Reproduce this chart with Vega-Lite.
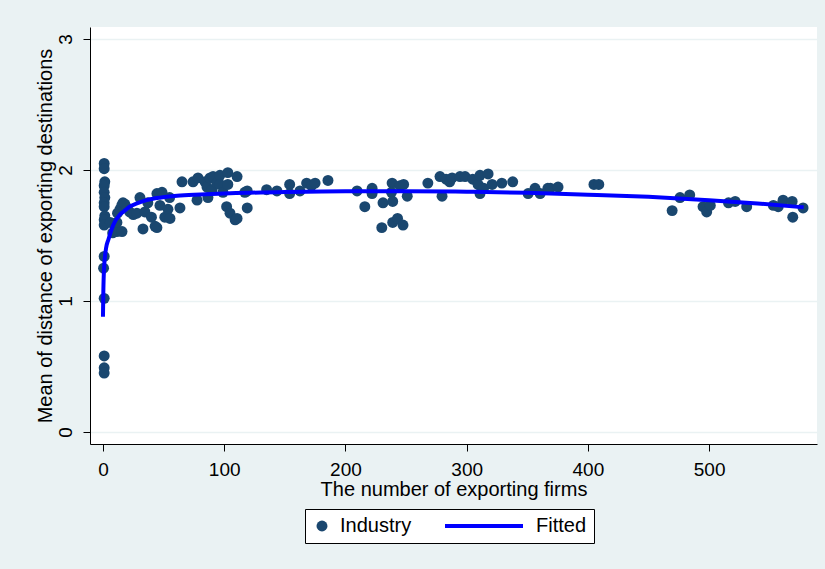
{
  "$schema": "https://vega.github.io/schema/vega-lite/v6.json",
  "width": 727,
  "height": 417,
  "autosize": {"type": "none"},
  "padding": {"left": 90, "top": 27, "right": 8, "bottom": 125},
  "background": "#EAF2F3",
  "config": {
    "view": {"fill": "white", "stroke": null},
    "font": "Liberation Sans",
    "axis": {
      "domainColor": "black",
      "domainWidth": 1,
      "tickColor": "black",
      "tickSize": 7,
      "labelColor": "black",
      "labelFontSize": 19,
      "labelFont": "Liberation Sans",
      "titleColor": "black",
      "titleFontSize": 20,
      "titleFontWeight": "normal",
      "titleFont": "Liberation Sans",
      "labelFlush": false
    },
    "legend": {
      "orient": "none",
      "legendX": 215,
      "legendY": 482,
      "direction": "horizontal",
      "title": null,
      "labelFontSize": 20,
      "labelColor": "black",
      "labelFont": "Liberation Sans",
      "labelOffset": 8,
      "strokeColor": "black",
      "fillColor": "white",
      "padding": 7,
      "columnPadding": 33,
      "cornerRadius": 0
    }
  },
  "datasets": {
    "industry": [
      {"x": 1, "y": 2.05}, {"x": 1, "y": 2.01}, {"x": 1.5, "y": 1.91}, {"x": 1, "y": 1.88},
      {"x": 1, "y": 1.83}, {"x": 1.5, "y": 1.79}, {"x": 1, "y": 1.75}, {"x": 1, "y": 1.72},
      {"x": 1.5, "y": 1.65}, {"x": 1, "y": 1.62}, {"x": 1, "y": 1.58}, {"x": 1, "y": 1.34},
      {"x": 0.5, "y": 1.25}, {"x": 1, "y": 1.02}, {"x": 1, "y": 0.58}, {"x": 1, "y": 0.49},
      {"x": 1, "y": 0.45},
      {"x": 6, "y": 1.6}, {"x": 8, "y": 1.52}, {"x": 10, "y": 1.57}, {"x": 11.5, "y": 1.53},
      {"x": 11.5, "y": 1.6}, {"x": 12, "y": 1.67}, {"x": 14, "y": 1.7}, {"x": 15.5, "y": 1.73},
      {"x": 16.5, "y": 1.75}, {"x": 15.7, "y": 1.53}, {"x": 18, "y": 1.74}, {"x": 20, "y": 1.71},
      {"x": 22, "y": 1.68}, {"x": 25, "y": 1.66}, {"x": 28, "y": 1.67}, {"x": 30.5, "y": 1.79},
      {"x": 33, "y": 1.55}, {"x": 34.6, "y": 1.68}, {"x": 37, "y": 1.75}, {"x": 40, "y": 1.64},
      {"x": 43, "y": 1.57}, {"x": 44.5, "y": 1.56}, {"x": 44.5, "y": 1.82}, {"x": 47, "y": 1.73},
      {"x": 48.7, "y": 1.83}, {"x": 51, "y": 1.64}, {"x": 53.6, "y": 1.7}, {"x": 55, "y": 1.79},
      {"x": 55.3, "y": 1.63},
      {"x": 63.5, "y": 1.71}, {"x": 65.2, "y": 1.91}, {"x": 74.3, "y": 1.91}, {"x": 77.6, "y": 1.77},
      {"x": 78.4, "y": 1.94}, {"x": 84.2, "y": 1.91}, {"x": 85.8, "y": 1.87}, {"x": 86.6, "y": 1.79},
      {"x": 88.3, "y": 1.94}, {"x": 90, "y": 1.85}, {"x": 90.8, "y": 1.95}, {"x": 94, "y": 1.9},
      {"x": 96.5, "y": 1.96}, {"x": 96.5, "y": 1.89}, {"x": 99, "y": 1.83}, {"x": 103, "y": 1.98},
      {"x": 103, "y": 1.89}, {"x": 102, "y": 1.72}, {"x": 104.8, "y": 1.67}, {"x": 109, "y": 1.62},
      {"x": 110.6, "y": 1.63}, {"x": 110.6, "y": 1.95}, {"x": 117, "y": 1.83}, {"x": 119, "y": 1.71},
      {"x": 119, "y": 1.84},
      {"x": 135, "y": 1.85}, {"x": 143.5, "y": 1.84}, {"x": 154, "y": 1.89}, {"x": 154, "y": 1.82},
      {"x": 162.5, "y": 1.84}, {"x": 168, "y": 1.9}, {"x": 172, "y": 1.88}, {"x": 175, "y": 1.9},
      {"x": 185.6, "y": 1.92},
      {"x": 209.6, "y": 1.84}, {"x": 216, "y": 1.72}, {"x": 222, "y": 1.86}, {"x": 222, "y": 1.82},
      {"x": 230, "y": 1.56}, {"x": 231, "y": 1.75}, {"x": 238.5, "y": 1.9}, {"x": 238, "y": 1.83},
      {"x": 239, "y": 1.76}, {"x": 239, "y": 1.6}, {"x": 243, "y": 1.63}, {"x": 245, "y": 1.88},
      {"x": 247.5, "y": 1.58}, {"x": 248, "y": 1.89}, {"x": 251, "y": 1.8},
      {"x": 268, "y": 1.9}, {"x": 278, "y": 1.95}, {"x": 279.7, "y": 1.8}, {"x": 283, "y": 1.93},
      {"x": 286, "y": 1.91}, {"x": 288, "y": 1.94}, {"x": 294.5, "y": 1.95}, {"x": 298.7, "y": 1.95},
      {"x": 305, "y": 1.93}, {"x": 309.4, "y": 1.89}, {"x": 311, "y": 1.96}, {"x": 311, "y": 1.82},
      {"x": 314, "y": 1.86}, {"x": 317.7, "y": 1.97}, {"x": 321, "y": 1.89}, {"x": 329, "y": 1.9},
      {"x": 338, "y": 1.91}, {"x": 350.7, "y": 1.82}, {"x": 356.4, "y": 1.86}, {"x": 360.6, "y": 1.82},
      {"x": 367, "y": 1.86}, {"x": 369, "y": 1.86}, {"x": 375.4, "y": 1.87},
      {"x": 405, "y": 1.89}, {"x": 409, "y": 1.89}, {"x": 469.5, "y": 1.69}, {"x": 476, "y": 1.79},
      {"x": 484, "y": 1.81}, {"x": 495, "y": 1.72}, {"x": 498, "y": 1.68}, {"x": 501, "y": 1.73},
      {"x": 516, "y": 1.75}, {"x": 521.5, "y": 1.76}, {"x": 531, "y": 1.72}, {"x": 553, "y": 1.73},
      {"x": 557, "y": 1.72}, {"x": 561, "y": 1.77}, {"x": 568.5, "y": 1.76}, {"x": 569, "y": 1.64},
      {"x": 577.5, "y": 1.71}
    ],
    "fit": [
      {"x": 0, "y": 0.88}, {"x": 0.3, "y": 1.07}, {"x": 0.9, "y": 1.25}, {"x": 2.5, "y": 1.4},
      {"x": 4.5, "y": 1.47}, {"x": 8.5, "y": 1.58}, {"x": 14, "y": 1.66}, {"x": 18, "y": 1.69},
      {"x": 22, "y": 1.72}, {"x": 28, "y": 1.745}, {"x": 36, "y": 1.77}, {"x": 48, "y": 1.79},
      {"x": 64, "y": 1.805}, {"x": 85, "y": 1.815}, {"x": 105, "y": 1.822}, {"x": 150, "y": 1.832},
      {"x": 200, "y": 1.838}, {"x": 250, "y": 1.838}, {"x": 300, "y": 1.834}, {"x": 350, "y": 1.826},
      {"x": 400, "y": 1.812}, {"x": 450, "y": 1.795}, {"x": 500, "y": 1.77}, {"x": 540, "y": 1.745},
      {"x": 578, "y": 1.715}
    ]
  },
  "layer": [
    {
      "data": {"name": "industry"},
      "mark": {"type": "point", "filled": true, "opacity": 1},
      "encoding": {
        "x": {
          "field": "x", "type": "quantitative",
          "scale": {"domain": [-10.7, 589], "nice": false, "zero": false},
          "axis": {
            "values": [0, 100, 200, 300, 400, 500],
            "title": "The number of exporting firms",
            "grid": false,
            "labelPadding": 9,
            "titlePadding": 0
          }
        },
        "y": {
          "field": "y", "type": "quantitative",
          "scale": {"domain": [-0.092, 3.092], "nice": false, "zero": false},
          "axis": {
            "values": [0, 1, 2, 3],
            "format": "d",
            "title": "Mean of distance of exporting destinations",
            "grid": true,
            "gridColor": "#EAF2F3",
            "gridWidth": 1.5,
            "labelAngle": -90,
            "labelAlign": "center",
            "labelBaseline": "bottom",
            "labelPadding": 8,
            "titlePadding": 1
          }
        },
        "color": {
          "datum": "Industry",
          "type": "nominal",
          "scale": {"domain": ["Industry", "Fitted"], "range": ["#1A476F", "#0000FF"]}
        },
        "shape": {
          "datum": "Industry",
          "type": "nominal",
          "scale": {"domain": ["Industry", "Fitted"], "range": ["circle", "M-14.6,-0.4H1V0.4H-14.6Z"]}
        },
        "size": {
          "datum": "Industry",
          "type": "nominal",
          "scale": {"type": "ordinal", "domain": ["Industry", "Fitted"], "range": [120, 100]}
        }
      }
    },
    {
      "data": {"name": "fit"},
      "mark": {"type": "line", "color": "#0000FF", "strokeWidth": 4, "interpolate": "monotone"},
      "encoding": {
        "x": {"field": "x", "type": "quantitative"},
        "y": {"field": "y", "type": "quantitative"}
      }
    }
  ]
}
